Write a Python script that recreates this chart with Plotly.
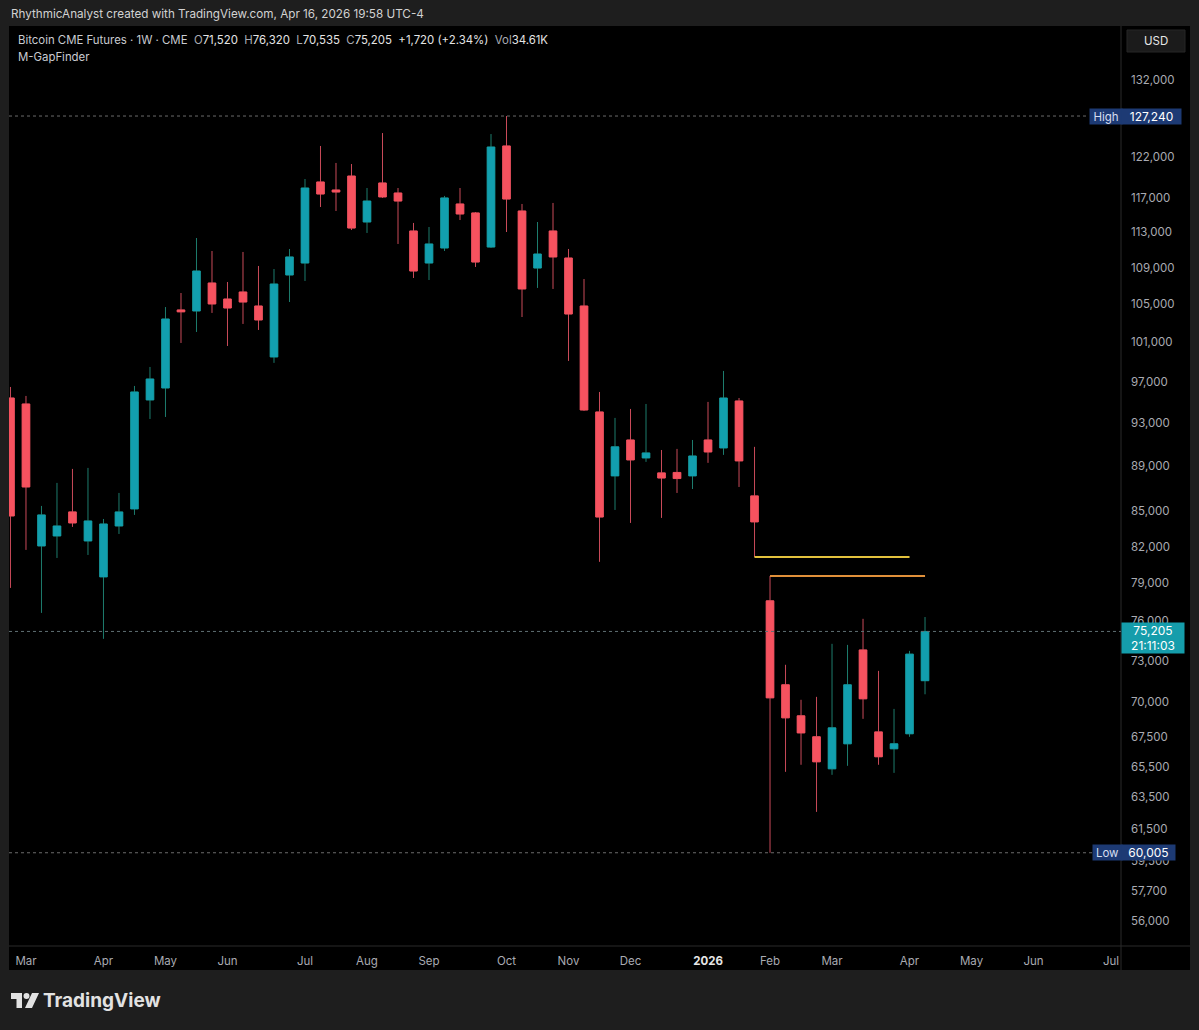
import numpy as np
import pandas as pd
import plotly.graph_objects as go

# ---------------- data (weekly Bitcoin CME futures candles) ----------------
week_starts = pd.date_range("2025-02-24", periods=60, freq="W-MON")

opens = [95430, 94850, 82060, 82900, 84960, 82480, 79510, 83750, 85220, 95240,
         96410, 104400, 104290, 107310, 105570, 106330, 104820, 99510, 108190, 109520,
         118960, 117990, 119680, 114200, 118840, 117630, 113160, 109520, 111210, 116320,
         115260, 111320, 123410, 115490, 108960, 113160, 110080, 104820, 94080, 88140,
         91430, 89770, 88410, 88450, 88140, 91430, 90690, 95140, 86360, 77590,
         71220, 69000, 67540, 65370, 67060, 73800, 67880, 66720, 67750, 71520]
highs = [96510, 95630, 85480, 87510, 88770, 88860, 84350, 86620, 96610, 98500,
         104710, 106220, 112350, 110870, 107420, 110760, 109190, 108850, 111100, 119320,
         123410, 121290, 121160, 118230, 125050, 118230, 114090, 113620, 117280, 118230,
         115370, 124920, 127240, 116320, 114200, 116440, 111100, 107750, 96020, 93510,
         94370, 94850, 90500, 90600, 91430, 95050, 98100, 95430, 90790, 79580,
         72690, 70140, 70350, 74260, 74180, 76180, 72240, 69490, 73730, 76320]
lows = [78620, 81730, 76640, 81060, 83670, 81310, 74640, 83070, 84700, 93410,
        93600, 100940, 102080, 104080, 100630, 102920, 102290, 98910, 105250, 107530,
        115960, 115490, 113270, 112930, 117040, 111670, 107860, 107640, 110870, 114430,
        109080, 111210, 113040, 103650, 106770, 106660, 99110, 94180, 80740, 85130,
        84010, 89410, 84440, 86620, 86970, 89320, 90050, 87150, 81130, 60005,
        65170, 65640, 62560, 64970, 65570, 68790, 65640, 65100, 67540, 70535]
closes = [84610, 87150, 84700, 83750, 84010, 84180, 83920, 84960, 96020, 97300,
          103440, 104200, 108630, 105040, 104610, 105250, 103340, 107200, 110200, 118230,
          117510, 117750, 113500, 116670, 117160, 116670, 108630, 111670, 117040, 115140,
          109630, 123280, 116910, 106660, 110530, 110200, 103970, 94270, 84520, 90790,
          89590, 90230, 87950, 87900, 89950, 90320, 95430, 89500, 84100, 70280,
          68860, 67810, 65840, 68160, 71220, 70210, 66180, 67060, 73485, 75205]

last_volume_text = "34.61K"
bar_countdown = "21:11:03"

# gap-finder levels (index of source candle, index of last candle reached)
gap_upper_src, gap_upper_end = 48, 58   # low of the week before the gap
gap_lower_src, gap_lower_end = 49, 59   # high of the week after the gap

price_ticks = [132000, 122000, 117000, 113000, 109000, 105000, 101000, 97000, 93000,
               89000, 85000, 82000, 79000, 76000, 73000, 70000, 67500, 65500, 63500,
               61500, 59500, 57700, 56000]
month_tick_dates = ["2025-03-03", "2025-04-07", "2025-05-05", "2025-06-02", "2025-07-07",
                    "2025-08-04", "2025-09-01", "2025-10-06", "2025-11-03", "2025-12-01",
                    "2026-01-05", "2026-02-02", "2026-03-02", "2026-04-06", "2026-05-04",
                    "2026-06-01", "2026-07-06"]
month_tick_labels = ["Mar", "Apr", "May", "Jun", "Jul", "Aug", "Sep", "Oct", "Nov", "Dec",
                     "<b style='color:#e6e6e6'>2026</b>", "Feb", "Mar", "Apr", "May", "Jun", "Jul"]

# ---------------- styling ----------------
UP_BODY, DOWN_BODY = "#129fae", "#f6525f"
UP_WICK, DOWN_WICK = "#1d7c6d", "#c94a59"
AXIS_TXT = "#a9abb2"
FONT = "Inter, Roboto, sans-serif"

W, H = 1199, 1030
PL, PR, PT, PB = 9, 1121, 26, 946  # plot area in pixels


def px_x(px):
    return (px - PL) / (PR - PL)


def px_y(py):
    return 1 - (py - PT) / (PB - PT)


fig = go.Figure()

# wicks (full range)
fig.add_trace(go.Candlestick(
    x=week_starts, open=opens, high=highs, low=lows, close=closes,
    increasing=dict(line=dict(color=UP_WICK, width=1), fillcolor=UP_WICK),
    decreasing=dict(line=dict(color=DOWN_WICK, width=1), fillcolor=DOWN_WICK),
    whiskerwidth=0, showlegend=False, hoverinfo="skip"))

# bodies
body_hi = np.maximum(opens, closes)
body_lo = np.minimum(opens, closes)
fig.add_trace(go.Candlestick(
    x=week_starts, open=opens, high=body_hi, low=body_lo, close=closes,
    increasing=dict(line=dict(color=UP_BODY, width=0.5), fillcolor=UP_BODY),
    decreasing=dict(line=dict(color=DOWN_BODY, width=0.5), fillcolor=DOWN_BODY),
    whiskerwidth=0, showlegend=False, hoverinfo="skip"))

# gap lines
fig.add_trace(go.Scatter(
    x=[week_starts[gap_upper_src], week_starts[gap_upper_end]],
    y=[lows[gap_upper_src]] * 2, mode="lines",
    line=dict(color="#e3c23d", width=2), showlegend=False, hoverinfo="skip"))
fig.add_trace(go.Scatter(
    x=[week_starts[gap_lower_src], week_starts[gap_lower_end]],
    y=[highs[gap_lower_src]] * 2, mode="lines",
    line=dict(color="#e0903a", width=2), showlegend=False, hoverinfo="skip"))

hi_val = max(highs)
lo_val = min(lows)
last_c = closes[-1]
chg = closes[-1] - closes[-2]
pct = chg / closes[-2] * 100

shapes = [
    # black chart panel
    dict(type="rect", xref="paper", yref="paper", x0=px_x(9), x1=px_x(1190),
         y0=px_y(970), y1=px_y(26), fillcolor="#000000", line=dict(width=0), layer="below"),
    # separators
    dict(type="line", xref="paper", yref="paper", x0=1, x1=1, y0=px_y(970), y1=px_y(26),
         line=dict(color="#2a2a2a", width=1)),
    dict(type="line", xref="paper", yref="paper", x0=px_x(9), x1=px_x(1190), y0=0, y1=0,
         line=dict(color="#2a2a2a", width=1)),
    # USD box
    dict(type="rect", xref="paper", yref="paper", x0=px_x(1127), x1=px_x(1185),
         y0=px_y(52), y1=px_y(30), fillcolor="#1b1b1b", line=dict(color="#262626", width=1)),
    # high / low / last price dotted lines
    dict(type="line", xref="paper", yref="y", x0=0, x1=px_x(1089), y0=hi_val, y1=hi_val,
         line=dict(color="#6b6b6b", width=1, dash="dot")),
    dict(type="line", xref="paper", yref="y", x0=0, x1=px_x(1092), y0=lo_val, y1=lo_val,
         line=dict(color="#6b6b6b", width=1, dash="dot")),
    dict(type="line", xref="paper", yref="y", x0=0, x1=1, y0=last_c, y1=last_c,
         line=dict(color="#5f6f72", width=1, dash="dot")),
    # TradingView logo glyph
    dict(type="rect", xref="paper", yref="paper", x0=px_x(11), x1=px_x(22),
         y0=px_y(999), y1=px_y(993), fillcolor="#e2e2e2", line=dict(width=0)),
    dict(type="rect", xref="paper", yref="paper", x0=px_x(16.5), x1=px_x(22),
         y0=px_y(1008), y1=px_y(993), fillcolor="#e2e2e2", line=dict(width=0)),
    dict(type="circle", xref="paper", yref="paper", x0=px_x(23.5), x1=px_x(29.5),
         y0=px_y(999), y1=px_y(993), fillcolor="#e2e2e2", line=dict(width=0)),
    dict(type="path", xref="paper", yref="paper",
         path=f"M {px_x(32)} {px_y(993)} L {px_x(39)} {px_y(993)} L {px_x(32)} {px_y(1008)} "
              f"L {px_x(25)} {px_y(1008)} Z",
         fillcolor="#e2e2e2", line=dict(width=0)),
]

sp = "\u00a0"
legend_txt = (
    f"<span style='color:#c9cbd1'>Bitcoin CME Futures · 1W · CME</span>{sp}{sp}"
    f"O<span style='color:#e4e4e4'>{opens[-1]:,}</span>{sp}{sp}"
    f"H<span style='color:#e4e4e4'>{highs[-1]:,}</span>{sp}{sp}"
    f"L<span style='color:#e4e4e4'>{lows[-1]:,}</span>{sp}{sp}"
    f"C<span style='color:#e4e4e4'>{closes[-1]:,}</span>{sp}{sp}"
    f"<span style='color:#e4e4e4'>{chg:+,} ({pct:+.2f}%)</span>{sp}{sp}"
    f"Vol<span style='color:#e4e4e4'>{last_volume_text}</span>"
)

annotations = [
    dict(text="RhythmicAnalyst created with TradingView.com, Apr 16, 2026 19:58 UTC-4",
         xref="paper", yref="paper", x=px_x(9), y=px_y(14), xanchor="left", yanchor="middle",
         showarrow=False, font=dict(family=FONT, size=11.7, color="#d2d2d2")),
    dict(text=legend_txt, xref="paper", yref="paper", x=px_x(16), y=px_y(40),
         xanchor="left", yanchor="middle", showarrow=False,
         font=dict(family=FONT, size=11.4, color="#a9abb2")),
    dict(text="M-GapFinder", xref="paper", yref="paper", x=px_x(16), y=px_y(57),
         xanchor="left", yanchor="middle", showarrow=False,
         font=dict(family=FONT, size=11.4, color="#c9cbd1")),
    dict(text="USD", xref="paper", yref="paper", x=px_x(1156), y=px_y(41),
         xanchor="center", yanchor="middle", showarrow=False,
         font=dict(family=FONT, size=11.5, color="#e6e6e6")),
    # High label
    dict(text="High", xref="paper", yref="y", x=px_x(1089), y=np.log10(hi_val),
         xanchor="left", yanchor="middle", showarrow=False, width=32, height=15,
         bgcolor="#1d3a74", borderpad=0, font=dict(family=FONT, size=11.5, color="#d6def0")),
    dict(text=f"{hi_val:,}", xref="paper", yref="y", x=1, y=np.log10(hi_val),
         xanchor="left", yanchor="middle", showarrow=False, width=59, height=15,
         bgcolor="#1d3a74", borderpad=0, font=dict(family=FONT, size=12, color="#ffffff")),
    # Low label
    dict(text="Low", xref="paper", yref="y", x=px_x(1092), y=np.log10(lo_val),
         xanchor="left", yanchor="middle", showarrow=False, width=29, height=15,
         bgcolor="#1d3a74", borderpad=0, font=dict(family=FONT, size=11.5, color="#d6def0")),
    dict(text=f"{lo_val:,}", xref="paper", yref="y", x=1, y=np.log10(lo_val),
         xanchor="left", yanchor="middle", showarrow=False, width=53, height=15,
         bgcolor="#1d3a74", borderpad=0, font=dict(family=FONT, size=12, color="#ffffff")),
    # last price label (price aligned with the line, countdown below)
    dict(text=f"{last_c:,}<br>{bar_countdown}", xref="paper", yref="y", x=1,
         y=np.log10(last_c), xanchor="left", yanchor="top", yshift=9, showarrow=False,
         width=62, height=30, bgcolor="#159dab", borderpad=0, align="center",
         font=dict(family=FONT, size=12, color="#ffffff")),
    # TradingView wordmark
    dict(text="<b>TradingView</b>", xref="paper", yref="paper", x=px_x(41), y=px_y(1001),
         xanchor="left", yanchor="middle", showarrow=False,
         font=dict(family=FONT, size=19, color="#e2e2e2")),
]

y_lo, y_hi = 54560, 139480
fig.update_layout(
    width=W, height=H,
    margin=dict(l=PL, r=W - PR, t=PT, b=H - PB),
    paper_bgcolor="#1e1e1e", plot_bgcolor="#000000",
    font=dict(family=FONT, size=12, color=AXIS_TXT),
    showlegend=False, hovermode=False,
    shapes=shapes, annotations=annotations,
    xaxis=dict(type="date", range=["2025-02-23 08:00", "2026-07-10 12:00"],
               tickvals=month_tick_dates, ticktext=month_tick_labels,
               showgrid=False, zeroline=False, showline=False, ticks="",
               tickfont=dict(family=FONT, size=11.5, color=AXIS_TXT),
               rangeslider=dict(visible=False), ticklabelstandoff=6),
    yaxis=dict(type="log", range=[np.log10(y_lo), np.log10(y_hi)], side="right",
               tickvals=price_ticks, ticktext=[f"{v:,}" for v in price_ticks],
               showgrid=False, zeroline=False, showline=False, ticks="",
               tickfont=dict(family=FONT, size=11.5, color=AXIS_TXT),
               ticklabelstandoff=9),
)

fig.write_html(
    "out.html",
    config={"displayModeBar": False},
    post_script="document.body.style.margin='0';document.body.style.background='#1e1e1e';",
)
